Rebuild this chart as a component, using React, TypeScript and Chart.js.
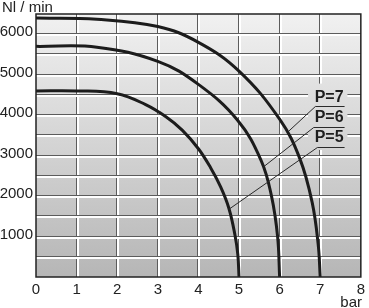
import { useEffect, useRef } from "react";
import { Chart, registerables } from "chart.js";

Chart.register(...registerables);

// ---- data ----
const xTicks = [0, 1, 2, 3, 4, 5, 6, 7, 8];
const yTicks = [1000, 2000, 3000, 4000, 5000, 6000];
const yGridStep = 500;
const xMin = 0;
const xMax = 8;
const yMin = 0;
const yMax = 6500;

const p5X = [0, 1, 2, 2.7, 3.2, 3.6, 4, 4.3, 4.55, 4.75, 4.9, 4.97, 5];
const p5Y = [4600, 4600, 4530, 4260, 3960, 3630, 3170, 2700, 2220, 1700, 1040, 560, 0];

const p6X = [0, 1.5, 3, 4, 4.96, 5.54, 5.8, 5.95, 6];
const p6Y = [5700, 5680, 5330, 4760, 3880, 2890, 2000, 1000, 0];

const p7X = [0, 1.5, 3, 4, 5, 6, 6.5, 6.8, 6.95, 7];
const p7Y = [6400, 6370, 6190, 5800, 5090, 3900, 2920, 1850, 800, 0];

const labelNames = ["P=7", "P=6", "P=5"];
const labelTextX = [7.22, 7.22, 7.22];
const labelTextY = [4440, 3950, 3450];
const labelLineY = [4215, 3705, 3210];
const labelLineX0 = [6.88, 6.84, 6.93];
const labelLineX1 = [7.6, 7.6, 7.6];
const leaderEndX = [6.22, 5.6, 4.76];
const leaderEndY = [3600, 2720, 1680];
const labelBoxX = [6.7, 7.67];
const labelBoxY = [3140, 4780];

const yTitle = "Nl / min";
const xTitle = "bar";

const FONT = "'Liberation Sans', Arial, sans-serif";

function makeGradient(ctx: CanvasRenderingContext2D, top: number, bottom: number) {
  const g = ctx.createLinearGradient(0, top, 0, bottom);
  g.addColorStop(0, "#f1f1f1");
  g.addColorStop(1, "#b6b6b6");
  return g;
}

const decor = {
  id: "decor",
  beforeDraw(chart: any) {
    const { ctx, chartArea: a } = chart;
    ctx.save();
    ctx.fillStyle = makeGradient(ctx, a.top, a.bottom);
    ctx.fillRect(a.left, a.top, a.right - a.left, a.bottom - a.top);
    ctx.restore();
  },
  beforeDatasetsDraw(chart: any) {
    const { ctx, chartArea: a, scales } = chart;
    const x = scales.x;
    const y = scales.y;
    ctx.save();
    for (let v = xMin + 1; v < xMax; v++) {
      const px = Math.round(x.getPixelForValue(v));
      ctx.fillStyle = "#5c5c5c";
      ctx.fillRect(px - 1, a.top, 1, a.bottom - a.top);
      ctx.fillStyle = "#ffffff";
      ctx.fillRect(px, a.top, 2, a.bottom - a.top);
    }
    for (let v = yMin + yGridStep; v < yMax; v += yGridStep) {
      const py = Math.round(y.getPixelForValue(v));
      ctx.fillStyle = "#5c5c5c";
      ctx.fillRect(a.left, py - 1, a.right - a.left, 1);
      ctx.fillStyle = "#ffffff";
      ctx.fillRect(a.left, py, a.right - a.left, 2);
    }
    // background box behind labels
    const bx0 = x.getPixelForValue(labelBoxX[0]);
    const bx1 = x.getPixelForValue(labelBoxX[1]);
    const by0 = y.getPixelForValue(labelBoxY[1]);
    const by1 = y.getPixelForValue(labelBoxY[0]);
    ctx.fillStyle = makeGradient(ctx, a.top, a.bottom);
    ctx.fillRect(bx0, by0, bx1 - bx0, by1 - by0);
    ctx.restore();
  },
  afterDatasetsDraw(chart: any) {
    const { ctx, chartArea: a, scales } = chart;
    const x = scales.x;
    const y = scales.y;
    ctx.save();
    // frame
    ctx.strokeStyle = "#222";
    ctx.lineWidth = 1.5;
    ctx.strokeRect(a.left, a.top, a.right - a.left, a.bottom - a.top);
    // labels
    ctx.lineWidth = 1;
    ctx.strokeStyle = "#2a2a2a";
    for (let i = 0; i < labelNames.length; i++) {
      const lx0 = x.getPixelForValue(labelLineX0[i]);
      const lx1 = x.getPixelForValue(labelLineX1[i]);
      const ly = Math.round(y.getPixelForValue(labelLineY[i])) + 0.5;
      ctx.beginPath();
      ctx.moveTo(lx1, ly);
      ctx.lineTo(lx0, ly);
      ctx.lineTo(x.getPixelForValue(leaderEndX[i]), y.getPixelForValue(leaderEndY[i]));
      ctx.stroke();
      ctx.fillStyle = "#1e1e1e";
      ctx.font = `bold 16px ${FONT}`;
      ctx.textAlign = "center";
      ctx.textBaseline = "middle";
      ctx.fillText(labelNames[i], x.getPixelForValue(labelTextX[i]), y.getPixelForValue(labelTextY[i]));
    }
    // axis titles
    ctx.fillStyle = "#222";
    ctx.font = `15px ${FONT}`;
    ctx.textBaseline = "alphabetic";
    ctx.textAlign = "left";
    ctx.fillText(yTitle, 2, 12);
    ctx.textAlign = "right";
    ctx.fillText(xTitle, 362, 306.5);
    ctx.restore();
  },
};

export default function App() {
  const ref = useRef<HTMLCanvasElement | null>(null);
  useEffect(() => {
    if (!ref.current) return;
    const mk = (xs: number[], ys: number[]) => xs.map((v, i) => ({ x: v, y: ys[i] }));
    const ds = (data: any) => ({
      data,
      borderColor: "#1c1c1c",
      borderWidth: 3,
      pointRadius: 0,
      fill: false,
      tension: 0.4,
    });
    const chart = new Chart(ref.current, {
      type: "line",
      data: {
        datasets: [ds(mk(p5X, p5Y)), ds(mk(p6X, p6Y)), ds(mk(p7X, p7Y))],
      },
      options: {
        animation: false,
        responsive: false,
        maintainAspectRatio: false,
        layout: { padding: { top: 14, right: 5, left: 0, bottom: 0 } },
        plugins: { legend: { display: false }, tooltip: { enabled: false } },
        scales: {
          x: {
            type: "linear",
            min: xMin,
            max: xMax,
            afterFit: (s: any) => {
              s.height = 31;
            },
            afterBuildTicks: (s: any) => {
              s.ticks = xTicks.map((v) => ({ value: v }));
            },
            grid: { display: false, drawTicks: false },
            border: { display: false },
            ticks: {
              font: { family: FONT, size: 15 },
              color: "#222",
              padding: 4,
              maxRotation: 0,
              autoSkip: false,
              callback: (v: any) => String(v),
            },
          },
          y: {
            type: "linear",
            min: yMin,
            max: yMax,
            afterFit: (s: any) => {
              s.width = 36;
            },
            afterBuildTicks: (s: any) => {
              s.ticks = yTicks.map((v) => ({ value: v }));
            },
            grid: { display: false, drawTicks: false },
            border: { display: false },
            ticks: {
              font: { family: FONT, size: 15 },
              color: "#222",
              padding: 3,
              labelOffset: -2,
              autoSkip: false,
              callback: (v: any) => String(v),
            },
          },
        },
      },
      plugins: [decor],
    });
    return () => chart.destroy();
  }, []);
  return (
    <div style={{ position: "absolute", left: 0, top: 0, width: 369, height: 308, background: "#fff" }}>
      <canvas ref={ref} width={369} height={308} style={{ display: "block" }} />
    </div>
  );
}
